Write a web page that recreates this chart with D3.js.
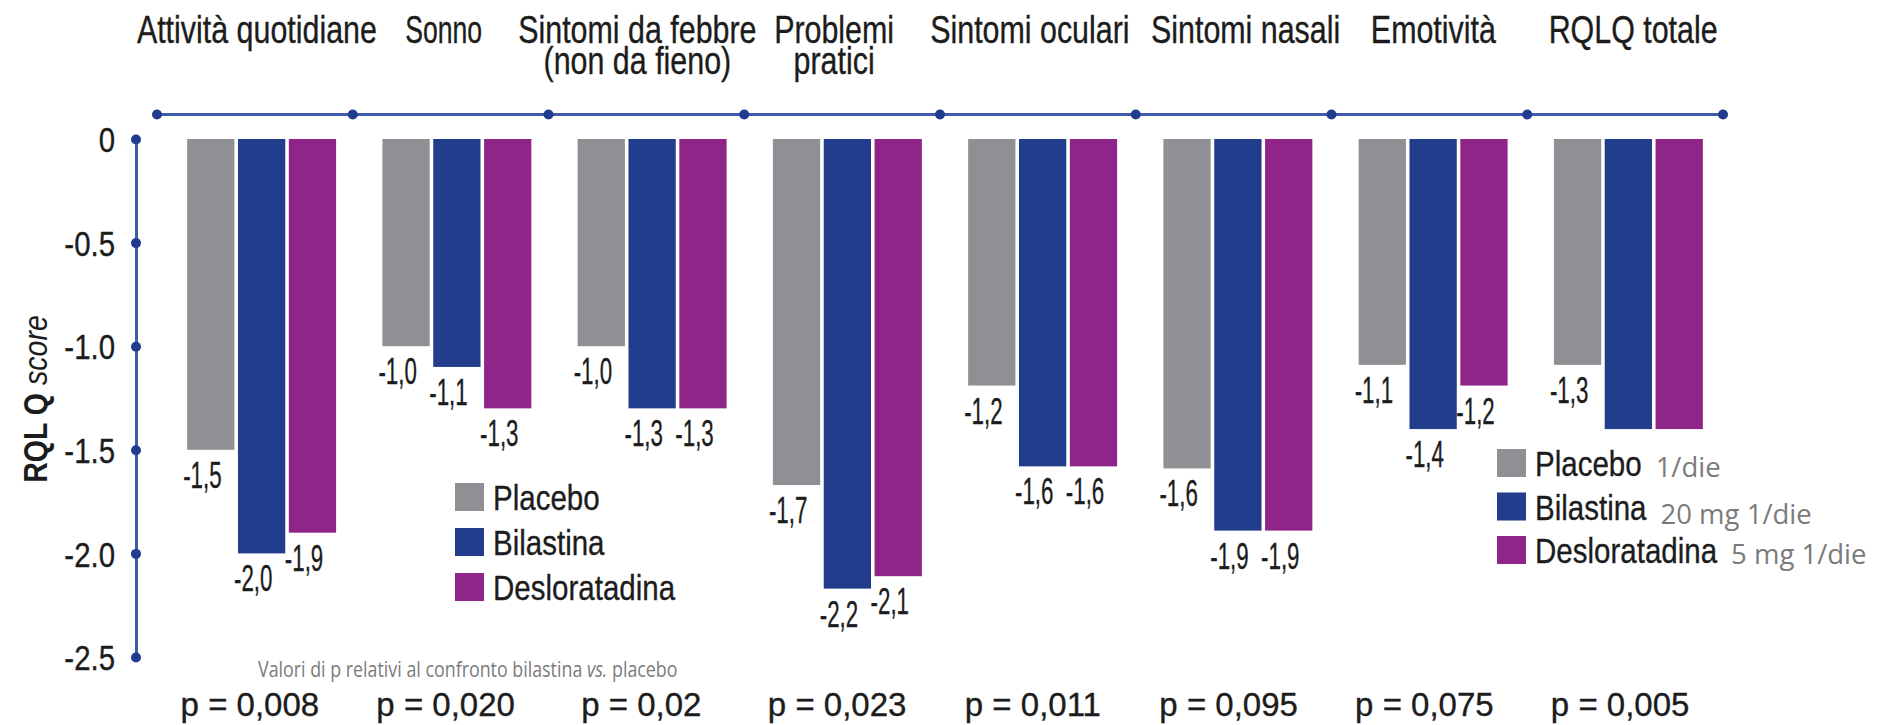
<!DOCTYPE html>
<html><head><meta charset="utf-8">
<script src="https://cdn.jsdelivr.net/npm/d3@7"></script>
<style>html,body{margin:0;padding:0;background:#fff;} svg{display:block}</style>
</head><body>
<svg id="chart" width="1883" height="725"></svg>
<script>
// ---------- data ----------
const categories = ["Attività quotidiane","Sonno","Sintomi da febbre\n(non da fieno)","Problemi\npratici","Sintomi oculari","Sintomi nasali","Emotività","RQLQ totale"];
const series = ["Placebo","Bilastina","Desloratadina"];
const placebo       = [-1.5, -1.0, -1.0, -1.67, -1.19, -1.59, -1.09, -1.09];
const bilastina     = [-2.0, -1.1, -1.3, -2.17, -1.58, -1.89, -1.40, -1.40];
const desloratadina = [-1.9, -1.3, -1.3, -2.11, -1.58, -1.89, -1.19, -1.40];
const placeboLabels       = ["-1,5","-1,0","-1,0","-1,7","-1,2","-1,6","-1,1","-1,3"];
const bilastinaLabels     = ["-2,0","-1,1","-1,3","-2,2","-1,6","-1,9","-1,4",""];
const desloratadinaLabels = ["-1,9","-1,3","-1,3","-2,1","-1,6","-1,9","-1,2",""];
const pValues = ["p = 0,008","p = 0,020","p = 0,02","p = 0,023","p = 0,011","p = 0,095","p = 0,075","p = 0,005"];
const yTicks = [0, -0.5, -1.0, -1.5, -2.0, -2.5];
const yTickLabels = ["0","-0.5","-1.0","-1.5","-2.0","-2.5"];
const doseNotes = ["1/die","20 mg 1/die","5 mg 1/die"];
const pNote = ["Valori di p relativi al confronto bilastina ", "vs.", " placebo"];
const yTitle = ["RQL Q", " score"];

// ---------- styles / layout tweaks ----------
const colors = ["#8e9093", "#213d8c", "#8f2589"];
const axisColor = "#3d5cab", dotColor = "#1f3c8e", textColor = "#1c1c1c", noteColor = "#7b7b7b";
const FONT = "'Liberation Sans', Arial, sans-serif";
const NOTE_FONT = "'Open Sans', sans-serif";
const catNudge = [2, -7, -9, -8, -8, 12, 4, 8];   // horizontal label shifts (px)

const svg = d3.select("#chart");
const valuesBySeries = [placebo, bilastina, desloratadina];
const labelsBySeries = [placeboLabels, bilastinaLabels, desloratadinaLabels];

// ---------- scales ----------
const y = d3.scaleLinear().domain([0, -2.5]).range([139, 657]);
const xTop = d3.scaleBand().domain(categories).range([157, 1723]);
const xBar = d3.scaleBand().domain(categories).range([164, 1726]).paddingInner(0.237).paddingOuter(0.1185);
const xIn = d3.scaleBand().domain(series).range([0, xBar.bandwidth()]).paddingInner(0.07);

// condensed text via horizontal scale (supports multi-line with tspans)
function ctext(g, x, yy, txt, size, anchor, sx, lineH) {
  const t = g.append("text")
    .attr("transform", `translate(${x},${yy}) scale(${sx},1)`)
    .attr("text-anchor", anchor || "start")
    .attr("font-family", FONT).attr("font-size", size)
    .attr("fill", textColor).attr("stroke", textColor).attr("stroke-width", 0.35);
  const lines = txt.split("\n");
  if (lines.length === 1) t.text(txt);
  else lines.forEach((ln, li) => t.append("tspan").attr("x", 0).attr("dy", li ? lineH : 0).text(ln));
  return t;
}

// ---------- top category line ----------
const topY = 114.5;
const topDots = d3.range(categories.length + 1).map(i => xTop.range()[0] + i * xTop.step());
svg.append("line").attr("x1", topDots[0]).attr("x2", topDots[topDots.length - 1])
  .attr("y1", topY).attr("y2", topY).attr("stroke", axisColor).attr("stroke-width", 3);
svg.selectAll("circle.td").data(topDots).join("circle").attr("class", "td")
  .attr("cx", d => d).attr("cy", topY).attr("r", 5).attr("fill", dotColor);

// category labels
const gCat = svg.append("g");
categories.forEach((c, i) => {
  const cx = xTop(c) + xTop.bandwidth() / 2 + catNudge[i];
  ctext(gCat, cx, 43, c, 38, "middle", c === "Sonno" ? 0.7 : 0.8, 31);
});

// ---------- y axis ----------
const yAxis = d3.axisLeft(y).tickValues(yTicks).tickFormat((d, i) => yTickLabels[i]).tickSize(0).tickSizeOuter(0).tickPadding(0);
const gy = svg.append("g").attr("transform", "translate(136,0)").call(yAxis);
gy.select(".domain").attr("stroke", axisColor).attr("stroke-width", 3);
gy.selectAll(".tick text").attr("x", null).attr("dy", "0.36em")
  .attr("transform", "translate(-21,0) scale(0.84,1)")
  .attr("font-family", FONT).attr("font-size", 35).attr("fill", textColor)
  .attr("stroke", textColor).attr("stroke-width", 0.35);
gy.selectAll(".tick").append("circle").attr("r", 5).attr("fill", dotColor);

// y title
const yt = svg.append("text").attr("transform", "translate(47,399) rotate(-90) scale(0.84,1)")
  .attr("text-anchor", "middle").attr("font-family", FONT).attr("font-size", 34).attr("fill", textColor);
yt.append("tspan").attr("font-weight", "bold").text(yTitle[0]);
yt.append("tspan").attr("font-style", "italic").text(yTitle[1]);

// ---------- bars ----------
const gBars = svg.append("g");
series.forEach((s, si) => {
  gBars.selectAll(`rect.s${si}`).data(categories).join("rect").attr("class", `s${si}`)
    .attr("x", c => xBar(c) + xIn(s))
    .attr("width", xIn.bandwidth())
    .attr("y", y(0))
    .attr("height", (c, i) => y(valuesBySeries[si][i]) - y(0))
    .attr("fill", colors[si]);
});

// value labels
const gLab = svg.append("g");
series.forEach((s, si) => {
  categories.forEach((c, i) => {
    const t = labelsBySeries[si][i];
    if (!t) return;
    ctext(gLab, xBar(c) + xIn(s) - 4, y(valuesBySeries[si][i]) + 38, t, 36, "start", 0.62);
  });
});

// ---------- p values ----------
const gP = svg.append("g");
categories.forEach((c, i) => {
  ctext(gP, xTop(c) + xTop.bandwidth() / 2 - 5, 716, pValues[i], 33, "middle", 1.0);
});
const pn = svg.append("text").attr("transform", "translate(258,677) scale(0.85,1)")
  .attr("font-family", NOTE_FONT).attr("font-size", 21).attr("fill", noteColor);
pn.append("tspan").text(pNote[0]);
pn.append("tspan").attr("font-style", "italic").text(pNote[1]);
pn.append("tspan").text(pNote[2]);

// ---------- legends ----------
function legend(x0, y0, step, notes) {
  const g = svg.append("g");
  series.forEach((s, si) => {
    const yy = y0 + si * step;
    g.append("rect").attr("x", x0).attr("y", yy).attr("width", 29).attr("height", 28).attr("fill", colors[si]);
    const t = ctext(g, x0 + 38, yy + 27, s, 36, "start", 0.82);
    if (notes) {
      const w = t.node().getComputedTextLength() * 0.82;
      g.append("text").attr("x", x0 + 38 + w + 14).attr("y", yy + 28 + (si === 1 ? 3 : 0))
        .attr("font-family", NOTE_FONT).attr("font-size", 27.5)
        .attr("fill", noteColor).text(notes[si]);
    }
  });
}
legend(455, 483, 45, null);
legend(1497, 449, 43.5, doseNotes);
</script>
</body></html>
